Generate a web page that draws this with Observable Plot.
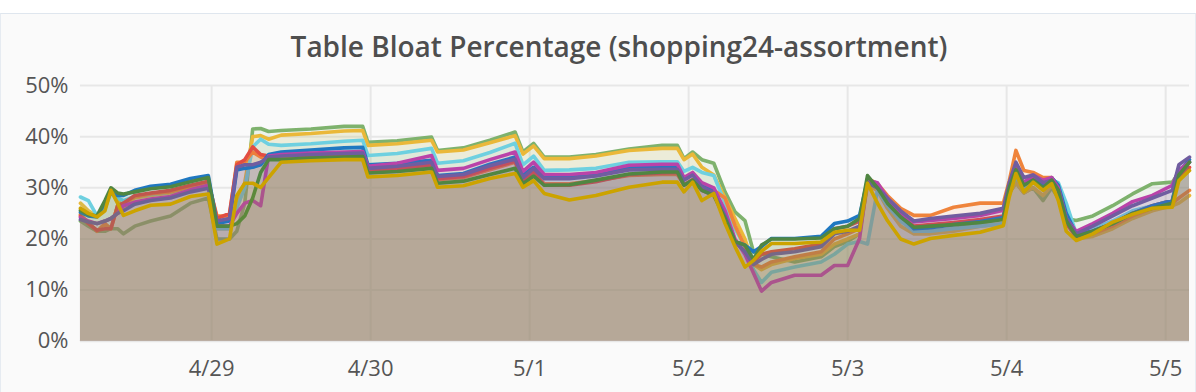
<!DOCTYPE html>
<html><head><meta charset="utf-8">
<script src="https://cdn.jsdelivr.net/npm/d3@7"></script>
<script src="https://cdn.jsdelivr.net/npm/@observablehq/plot@0.6"></script>
<style>
html,body{margin:0;padding:0;background:#fff;width:1196px;height:392px;overflow:hidden;}
#panel{position:absolute;left:0;top:13px;width:1194px;height:379px;background:#fafafa;border-top:1px solid #dfe6ee;border-left:1px solid #e6ebf1;border-right:1px solid #e6ebf1;}
#title{position:absolute;left:21px;width:1194px;top:14px;line-height:36px;text-align:center;font-family:"Open Sans";font-weight:600;font-size:28px;color:#4e4e4e;white-space:nowrap;}
#chart{position:absolute;left:-1px;top:50px;}
</style></head><body>
<div id="panel"><div id="title">Table Bloat Percentage (shopping24-assortment)</div><div id="chart"></div></div>
<script>
// hours since 4/29 00:00
const hours = [-19.8,-18.6,-17.3,-16.1,-15.2,-14.2,-13.3,-11.6,-9.2,-6.2,-3.2,-0.5,0.8,2.7,3.8,5.0,6.2,7.4,8.6,10.5,15.0,20.0,22.8,23.6,28.0,33.2,34.1,38.0,42.0,45.8,47.0,48.6,50.2,54.0,58.0,63.0,68.0,70.3,71.3,72.6,74.0,75.8,77.5,79.0,80.5,81.8,83.0,84.5,88.0,92.0,94.0,96.0,97.8,99.0,100.5,102.0,104.0,106.0,108.5,112.0,116.0,119.5,120.4,121.4,122.6,124.0,125.5,126.8,127.8,129.0,130.5,133.0,136.0,139.0,142.0,145.0,146.0,147.6];

const green = [23.5,22.5,21.5,21.5,22,22,21,22.5,23.5,24.5,27,28,20,20,21.5,27,41.5,41.6,41,41.2,41.5,42,42,38.9,39.2,39.9,37.3,37.8,39.3,40.9,37,38.7,36,36,36.5,37.6,38.3,38.3,35.7,37,35.5,34.8,29.2,25.3,23.6,17.4,17,16.5,15.5,16.5,18.5,19.5,21,31,30,27.5,24,22,21.5,22,23,24,29,31,29,30,27.5,30,28,24,23.6,24.5,26.5,28.8,30.8,31.1,33,35];
const yellow = [27,25.5,24.5,26,29.5,28,26,28,28.5,29,29.8,30.5,22,22,27,31,40,40.2,39.5,40.3,40.6,41.1,41.2,38.3,38.6,39.3,37,37.4,38.8,40.2,36.6,38.2,35.7,35.7,36.2,37.3,37.7,37.7,35.5,36.6,34,32.5,28,24,20,15,14,15,16.2,17,19,20,21,30.5,29.5,26,22.5,21,21,21.5,22.5,23,29,31,29,30,28.5,30.5,29,23.5,20,20.5,22,24,25.5,26.5,27,28.5];
const lightBlue = [28.2,27.5,24.5,26,29,28,27.5,28.3,28.7,29.2,30,30.8,22,22,26,30,38,39.5,38.5,38.3,38.6,39.1,39.3,36.3,36.7,37.7,34.8,35.3,36.9,38.7,34.5,36.2,33.4,33.5,33.8,35,35.1,35.1,33.2,34,33,32.4,27,22,18.5,14,11.5,13.5,14.5,15.5,17,19,19.5,19,29.5,26.5,23.5,21.5,21.5,22,22.5,23,29.5,32,30,31,30,31.5,31,27,21,22,23.5,25.5,26.5,27.5,33,35];
const orange = [24.8,23.2,21.5,23,22,26.5,27,28.2,28.8,29.2,30.2,31,24.5,24.5,35,35,37,36,36,36.2,36.2,36.4,36.5,33.4,33.6,34.3,31.6,32,33.5,35,31.5,33,30.8,30.8,31.4,32.4,32.6,32.6,30.6,31.6,30.5,29.5,28,22.6,18.5,15,14.5,15.5,16.5,17.5,20,21,22,31.8,30.8,28.5,26,24.6,24.6,26.2,27,27,31.4,37.3,33.4,33,32,32,30,23.5,20.3,21,22.5,24.5,26,27,28,29.5];
const red = [24.5,23,21.7,22,22,26.5,27,28.5,29,29.5,30.5,31.3,24,25,34.5,35.5,38,36.5,36.2,36.5,36.3,36.5,36.6,33.5,33.8,34.5,31.8,32.2,33.8,35.2,31.5,33.2,30.5,30.5,31.2,32.6,32.9,33,30.5,31.5,29.5,28.5,24.5,19.5,17.5,15.5,17,17.5,18.1,19,22,22.5,23.5,31.5,30,27.5,24.5,22.5,22.8,23.2,23.8,24.5,30,34,31,32,30.5,31.5,29.5,23,20.5,21.5,23,25,26.5,27.5,32,34];
const blue = [25.2,24.5,24.3,27,29,28.5,28.5,29.5,30.3,30.7,31.8,32.4,23,23.5,33.5,33.8,34,34.5,36.5,37,37.4,37.8,37.9,34.5,34.8,35.4,32.4,32.8,34.6,36,32.5,34,32.1,32.2,32.8,34,34.1,34.1,31.8,32.8,30.5,29.5,25,19.5,18.8,17.5,18.5,20.1,20.1,20.5,23,23.5,24.6,31.5,30.5,27.5,24.5,22,22.2,22.8,23.4,24.2,30,33,31,31.5,30.5,32,30.5,25,21,21.5,23,25,26.5,27.5,33,35.5];
const pink = [24.2,23.5,23,23.5,24,25,26.5,27.2,27.8,28.3,29.6,30.5,22.5,22.5,25,27,27.5,26.5,36.2,36.5,36.8,37,37.1,34.2,34.8,36.3,33.4,33.8,35.5,37,33.2,35,32.6,32.6,33,34.4,34.6,34.6,32,33,31,30,25.5,20,17,13.3,9.8,11.5,12.9,12.9,14.8,14.8,20.1,31.5,31,28,25,23.3,23.6,24,24.6,25.6,30,33,31,32.5,31.5,32,30,24,21.5,23,25,27.3,28.5,30.5,33.5,35];
const violet = [23.8,23.3,23,23.5,24,25,25.5,26.8,27.5,28,29.2,29.9,23.5,24,34,34.5,34.5,35,36,36.2,36.5,36.7,36.8,33.8,34.2,35,32.2,32.6,34.3,35.6,32,33.8,31.8,31.8,32.3,33.5,33.6,33.6,31.5,32.5,30.2,29,24.5,19.5,17.5,15,16,17,17.5,18.5,21,21.5,22.5,31,30,28,25.5,23.5,24,24.5,25,26,31,35,32,32.5,31,31.5,29.5,24,21,22.5,24.5,26.5,28,29.5,34.5,36];
const darkGreen = [25.6,24.8,24.5,27.5,30,29,28.8,29.2,29.8,30.2,31.2,32,22.5,22.5,23,24.5,28,33,35.5,35.5,35.8,36,36.1,32.9,33.2,33.8,30.9,31.3,32.6,33.8,30.8,32.3,30.5,30.6,31.5,32.7,33.1,33.1,30.5,31.5,29.5,28.5,24,19.5,18.8,16,18.8,20,20,20.2,22,22.5,24,32.4,30,27,24.3,22.3,22.5,22.8,23.2,23.8,30,33.5,30.5,31.5,30,31.5,29.5,23.5,20.5,21.5,23,25,26,27,32.5,35];
const darkYellow = [26,25,24.3,25.5,29.5,27,24.6,25.5,26.6,26.8,28.3,28.8,19,20,28.5,30.9,30.9,30.1,32,35,35.3,35.5,35.5,32.1,32.4,33.1,30.1,30.4,31.8,32.8,30.1,31.4,28.9,27.6,28.5,30.1,31.1,31.1,29.2,31.1,27.5,28.9,23,18.5,14.5,15.8,17.6,19.1,19.1,19.4,21.3,21.7,21.7,30.9,27,23.6,20,19,20.1,20.7,21.3,22.6,28.2,32.8,29.2,31.1,29.5,30.8,27.5,21.5,19.7,21,23.3,24.8,26,26.2,31.4,33.4];

const seriesNames = ["green","yellow","lightBlue","orange","red","blue","pink","violet","darkGreen","darkYellow"];
const seriesValues = [green,yellow,lightBlue,orange,red,blue,pink,violet,darkGreen,darkYellow];
const seriesColors = ["#7EB26D","#EAB839","#6ED0E0","#EF843C","#E24D42","#1F78C1","#BA43A9","#705DA0","#508642","#CCA300"];

const yTicks = [0,10,20,30,40,50];
const xTicks = [0,24,48,72,96,120,144];
const xTickLabels = ["4/29","4/30","5/1","5/2","5/3","5/4","5/5"];
const xLabel = new Map(xTicks.map((h,i)=>[h,xTickLabels[i]]));

const marks = [
  Plot.gridY(yTicks, {stroke:"#e7e7e7", strokeOpacity:1, strokeWidth:2}),
  Plot.gridX(xTicks, {stroke:"#e7e7e7", strokeOpacity:1, strokeWidth:2})
];
seriesNames.forEach((name, k) => {
  const rows = hours.map((h,i)=>({hour:h, value:seriesValues[k][i]}));
  marks.push(Plot.areaY(rows, {x:"hour", y:"value", fill:seriesColors[k], fillOpacity:0.1}));
  marks.push(Plot.lineY(rows, {x:"hour", y:"value", stroke:seriesColors[k], strokeWidth:3.6, strokeLinejoin:"round", strokeLinecap:"round"}));
});
marks.push(Plot.axisY(yTicks, {tickFormat:d=>d+"%", tickSize:0, tickPadding:12, label:null, fill:"#555"}));
marks.push(Plot.axisX(xTicks, {tickFormat:d=>xLabel.get(d), tickSize:0, tickPadding:19, label:null, fill:"#555"}));

const chart = Plot.plot({
  width:1196, height:328,
  marginTop:21, marginBottom:51, marginLeft:80, marginRight:6,
  x:{domain:[hours[0], hours[hours.length-1]]},
  y:{domain:[0,50]},
  style:{fontFamily:"Open Sans", fontSize:"22px", background:"transparent", color:"#555", overflow:"visible"},
  marks
});
document.getElementById("chart").append(chart);
</script></body></html>
